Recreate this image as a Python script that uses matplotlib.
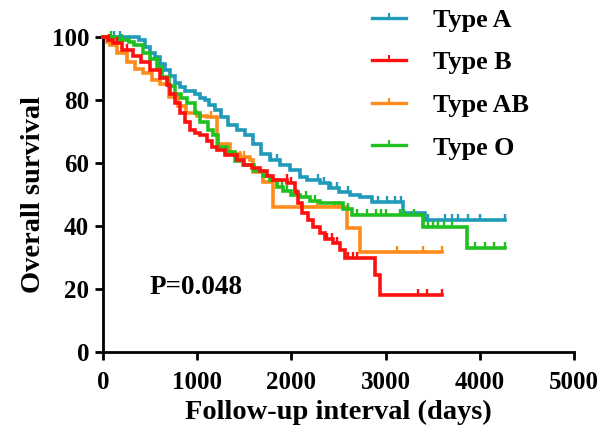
import numpy as np
import matplotlib
matplotlib.use("Agg")
import matplotlib.pyplot as plt
from matplotlib.path import Path
from matplotlib.lines import Line2D

# ---- data ----
groups = ["Type A", "Type B", "Type AB", "Type O"]
colors = ["#1f9ab8", "#ff1010", "#ff8c1a", "#20c020"]

a_t = [0, 265, 380, 446, 500, 552, 600, 658, 710, 764, 820, 870, 977, 1030, 1083, 1130, 1189,
       1250, 1327, 1420, 1507, 1592, 1680, 1773, 1880, 1985, 2090, 2166, 2300, 2400, 2510,
       2620, 2730, 2860, 3180, 3420]
a_s = [100, 100, 99, 96.8, 95, 93.6, 91.5, 89.5, 87.5, 85.4, 84, 82.8, 82, 80.5, 80, 78.5, 76.8,
       74.5, 72, 70.5, 69, 66, 63, 61, 59.5, 57.8, 55.5, 54.6, 53.6, 52, 50.8,
       50, 49.2, 47.6, 44, 42]
a_end = 4270
a_cens = [120, 180, 1780, 1850, 2280, 2350, 2420, 2480, 2600, 2920, 3010, 3100, 3160,
          3450, 3630, 3700, 3770, 3870, 4000, 4270]

b_t = [0, 50, 106, 200, 318, 400, 499, 600, 679, 711, 760, 817, 870, 924, 980, 1030, 1100,
       1160, 1210, 1300, 1420, 1500, 1580, 1667, 1740, 1805, 1953, 2038, 2070, 2112, 2180,
       2229, 2304, 2357, 2442, 2516, 2569, 2887, 2941]
b_s = [100, 99, 98, 96, 94, 92, 89.5, 87, 84.8, 82, 79, 76, 73, 70.5, 69.5, 69, 67,
       65, 64, 62.5, 61, 59.5, 58.5, 57.5, 56, 54.6, 53.6, 50.8, 47.3, 44, 42,
       39.7, 37.8, 36, 34.6, 32.4, 30, 24.4, 18]
b_end = 3600
b_cens = [60, 150, 250, 1950, 2000, 2380, 2430, 2480, 2600, 2650, 2700, 3340, 3440, 3600]

ab_t = [0, 40, 74, 150, 255, 340, 425, 520, 605, 700, 796, 880, 1000, 1100, 1210, 1348,
        1450, 1560, 1592, 1700, 1805, 2590, 2730]
ab_s = [100, 98.5, 97.5, 95, 92, 90, 88.5, 86.5, 85, 81, 78, 76, 75, 74.6, 66, 63,
        62, 61, 57, 54, 46, 39.4, 31.7]
ab_end = 3600
ab_cens = [100, 1000, 1150, 1450, 1500, 1700, 2270, 2460, 2500, 3120, 3400, 3600]

o_t = [0, 150, 280, 330, 425, 500, 573, 626, 700, 764, 830, 892, 977, 1030, 1115, 1168,
       1221, 1316, 1401, 1486, 1600, 1699, 1773, 1850, 1911, 2000, 2091, 2200, 2304, 2548,
       2643, 3397, 3864]
o_s = [100, 99, 98.5, 97.5, 95, 93, 90.5, 87.3, 84.5, 82, 80.5, 79, 76, 73, 70.5, 69,
       65, 63.5, 60.5, 59.4, 57.5, 56, 54.6, 52.5, 51, 50, 49.3, 48, 47.3, 45.5,
       43.5, 39.7, 33]
o_end = 4270
o_cens = [80, 200, 1900, 1950, 2060, 2150, 2250, 2600, 2700, 2800, 2900, 2950, 3000, 3150,
          3200, 3300, 3450, 3500, 3560, 3620, 3700, 3950, 4050, 4150, 4270]

series = [
    (a_t, a_s, a_end, a_cens),
    (b_t, b_s, b_end, b_cens),
    (ab_t, ab_s, ab_end, ab_cens),
    (o_t, o_s, o_end, o_cens),
]

x_ticks = [0, 1000, 2000, 3000, 4000, 5000]
y_ticks = [0, 20, 40, 60, 80, 100]

# ---- style ----
plt.rcParams['font.family'] = ['Liberation Serif', 'DejaVu Serif']
plt.rcParams['font.weight'] = 'bold'
FS = 18
FS_LAB = 20.5

tick_marker = Path([(0, 0), (0, 1)], [Path.MOVETO, Path.LINETO])

fig = plt.figure(figsize=(6.09, 4.32), dpi=100)
ax = fig.add_axes([103 / 609, 1 - 352 / 432, (574 - 103) / 609, (352 - 37) / 432])

draw_order = [0, 2, 3, 1]
for i in draw_order:
    t, s, end, cens = series[i]
    tt = np.array(list(t) + [end], dtype=float)
    ss = np.array(list(s) + [s[-1]], dtype=float)
    ax.step(tt, ss, where='post', color=colors[i], lw=2.6, clip_on=False,
            solid_joinstyle='miter', zorder=3)
    c = np.array(cens, dtype=float)
    idx = np.searchsorted(np.array(t, dtype=float), c, side='right') - 1
    cy = np.array(s, dtype=float)[idx]
    ax.plot(c, cy, linestyle='none', marker=tick_marker, markersize=8.5,
            markeredgewidth=1.7, color=colors[i], clip_on=False, zorder=3)

ax.set_xlim(0, 5000)
ax.set_ylim(0, 100)
ax.set_xticks(x_ticks)
ax.set_yticks(y_ticks)
ax.set_xticklabels([str(v) for v in x_ticks], fontsize=FS, fontweight='bold')
ax.set_yticklabels([str(v) for v in y_ticks], fontsize=FS, fontweight='bold')
for side in ['top', 'right']:
    ax.spines[side].set_visible(False)
for side in ['left', 'bottom']:
    ax.spines[side].set_linewidth(2.0)
ax.tick_params(axis='y', direction='out', length=6, width=2.0, pad=4)
ax.tick_params(axis='x', direction='out', length=6, width=2.0, pad=8)

ax.set_xlabel('Follow-up interval (days)', fontsize=FS_LAB, fontweight='bold', labelpad=4)
ax.set_ylabel('Overall survival', fontsize=FS_LAB, fontweight='bold', labelpad=4)

ax.text(490, 20.6, 'P=0.048', fontsize=19.5, fontweight='bold', va='center', ha='left')

handles = [Line2D([], [], color=c, lw=2.4, marker=tick_marker, markersize=7,
                  markeredgewidth=1.5) for c in colors]
leg = fig.legend(handles, groups, loc='upper left', bbox_to_anchor=(362 / 609, 1 + 2 / 432),
                 frameon=False, prop={'weight': 'bold', 'size': 18.8},
                 handlelength=1.3, handletextpad=1.0, labelspacing=0.74, numpoints=1,
                 borderaxespad=0.0)

fig.savefig('out.png', dpi=100)
